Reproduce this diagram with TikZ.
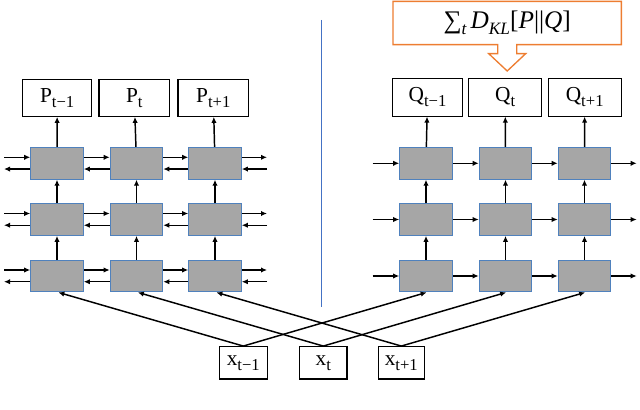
\documentclass[tikz,border=0pt]{standalone}
\usepackage{fontspec}
\setmainfont{Liberation Serif}
\usetikzlibrary{arrows.meta}
\definecolor{cellgray}{RGB}{166,166,166}
\definecolor{cellblue}{RGB}{79,129,189}
\definecolor{divblue}{RGB}{68,114,196}
\definecolor{klorange}{RGB}{237,125,49}
\newcommand\lbsub[1]{\raisebox{-3.8pt}{\fontsize{12.5}{12.5}\selectfont #1}}
\newcommand\klsub[1]{\raisebox{-4.5pt}{\fontsize{13}{13}\selectfont\itshape #1}}
\begin{document}
\begin{tikzpicture}[x=0.75pt,y=-0.75pt,
  cell/.style={draw=cellblue,fill=cellgray,line width=0.8pt,minimum width=39.4pt,minimum height=23.8pt,inner sep=0pt},
  outbox/.style={draw=black,fill=white,line width=0.8pt,minimum width=53pt,minimum height=27.5pt,inner sep=0pt,font=\fontsize{16}{18}\selectfont},
  inbox/.style={draw=black,fill=white,line width=0.8pt,minimum width=35.5pt,minimum height=24.3pt,inner sep=0pt,font=\fontsize{16}{18}\selectfont},
  arr/.style={line width=1.1pt,-{Latex[length=4.5pt,width=4pt]}},
]
\useasboundingbox (0,0) rectangle (640,410);

% KL box with block arrow
\node[minimum width=170.8pt,minimum height=32pt,inner sep=0pt,font=\fontsize{19}{22}\selectfont] (kl) at (507.2,23) {∑\klsub{t}\,\textit{D}\klsub{KL}[\textit{P}||\textit{Q}]};
\coordinate (tip) at (507.2,71);
\draw[klorange,line width=1pt,line join=miter]
  (kl.north west) -- (kl.north east) -- (kl.south east)
  -- ([xshift=7.1pt]kl.south) -- ([xshift=7.1pt,yshift=-6.75pt]kl.south)
  -- ([xshift=13.9pt,yshift=-6.75pt]kl.south) -- (tip)
  -- ([xshift=-13.9pt,yshift=-6.75pt]kl.south) -- ([xshift=-7.1pt,yshift=-6.75pt]kl.south)
  -- ([xshift=-7.1pt]kl.south) -- (kl.south west) -- cycle;

% divider
\coordinate (d1) at (321.5,20);
\coordinate (d2) at (321.5,307);
\draw[divblue,line width=1.3pt] (d1) -- (d2);

% output boxes
\node[outbox,minimum width=51.8pt] (P1) at (57.2,98) {P\lbsub{t−1}};
\node[outbox] (P2) at (134.3,98) {P\lbsub{t}};
\node[outbox] (P3) at (213.3,98) {P\lbsub{t+1}};
\node[outbox,minimum height=28.3pt,minimum width=52.2pt] (Q1) at (427.5,97.2) {Q\lbsub{t−1}};
\node[outbox,minimum height=28.3pt,minimum width=54.7pt] (Q2) at (505.2,97.2) {Q\lbsub{t}};
\node[outbox,minimum height=28.3pt,minimum width=54.5pt] (Q3) at (584.7,97.2) {Q\lbsub{t+1}};

% input boxes
\node[inbox,minimum width=36pt] (X1) at (243.3,362.8) {x\lbsub{t−1}};
\node[inbox] (X2) at (323.3,362.8) {x\lbsub{t}};
\node[inbox,minimum width=34.5pt] (X3) at (401.3,362.8) {x\lbsub{t+1}};

% cells
\foreach \r/\y in {1/163.3,2/219.5,3/276}{
  \foreach \c/\x in {1/57,2/136.5,3/215}{
    \node[cell] (L\r\c) at (\x,\y) {};
  }
  \foreach \c/\x in {1/426,2/505.5,3/584.5}{
    \node[cell] (R\r\c) at (\x,\y) {};
  }
  \coordinate (LA\r) at (4,\y);
  \coordinate (LB\r) at (267,\y);
  \coordinate (RA\r) at (372.7,\y);
  \coordinate (RB\r) at (636.7,\y);
}

% vertical arrows
\foreach \c in {1,2,3}{
  \draw[arr] (L1\c) -- (P\c);
  \draw[arr] (L2\c) -- (L1\c);
  \draw[arr] (L3\c) -- (L2\c);
  \draw[arr] (R1\c) -- (Q\c);
  \draw[arr] (R2\c) -- (R1\c);
  \draw[arr] (R3\c) -- (R2\c);
}

% horizontal arrows
\foreach \r in {1,2,3}{
  % left: bidirectional
  \draw[arr] ([yshift=4.5pt]LA\r) -- ([yshift=4.5pt]L\r1.west);
  \draw[arr] ([yshift=4.5pt]L\r1.east) -- ([yshift=4.5pt]L\r2.west);
  \draw[arr] ([yshift=4.5pt]L\r2.east) -- ([yshift=4.5pt]L\r3.west);
  \draw[arr] ([yshift=4.5pt]L\r3.east) -- ([yshift=4.5pt]LB\r);
  \draw[arr] ([yshift=-4.3pt]L\r1.west) -- ([yshift=-4.3pt]LA\r);
  \draw[arr] ([yshift=-4.3pt]L\r2.west) -- ([yshift=-4.3pt]L\r1.east);
  \draw[arr] ([yshift=-4.3pt]L\r3.west) -- ([yshift=-4.3pt]L\r2.east);
  \draw[arr] ([yshift=-4.3pt]LB\r) -- ([yshift=-4.3pt]L\r3.east);
  % right: forward only
  \draw[arr] (RA\r) -- (R\r1.west);
  \draw[arr] (R\r1.east) -- (R\r2.west);
  \draw[arr] (R\r2.east) -- (R\r3.west);
  \draw[arr] (R\r3.east) -- (RB\r);
}

% input arrows
\foreach \c in {1,2,3}{
  \draw[arr] (X\c.north) -- ([xshift=1pt]L3\c.south);
  \draw[arr] (X\c.north) -- ([xshift=0.5pt]R3\c.south);
}
\end{tikzpicture}
\end{document}
